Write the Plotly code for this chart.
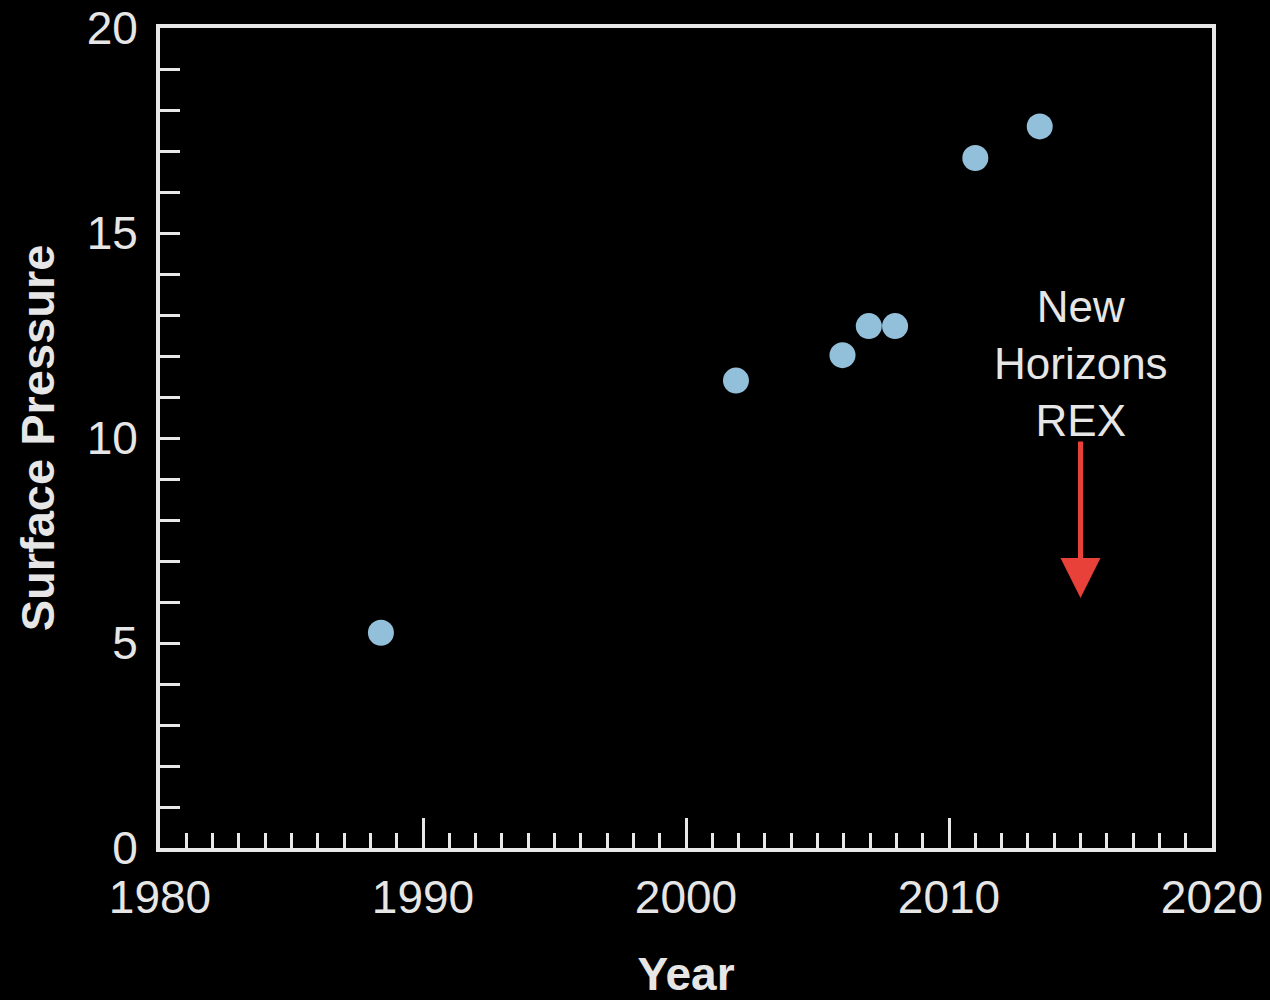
import plotly.graph_objects as go

years = [1988.4, 2001.9, 2005.95, 2006.95, 2007.95, 2011.0, 2013.45]
pressure = [5.25, 11.4, 12.02, 12.73, 12.73, 16.83, 17.6]

x_ticks = [1980, 1990, 2000, 2010, 2020]
y_ticks = [0, 5, 10, 15, 20]

label_text = "New<br>Horizons<br>REX"
label_x = 2015.0
label_y = 11.82
arrow_x = 2015.0
arrow_from = 9.95
arrow_to = 6.1

TXT = "#e6e6e6"
FONT = "Liberation Sans, Arial, sans-serif"

fig = go.Figure()
fig.add_trace(go.Scatter(
    x=years, y=pressure, mode="markers",
    marker=dict(size=26, color="#92bfd9", line=dict(width=0)),
    showlegend=False, hoverinfo="x+y",
))

annotations = [
    dict(x=label_x, y=label_y, xref="x", yref="y", text=label_text,
         showarrow=False, font=dict(size=44, color=TXT, family=FONT),
         xanchor="center", yanchor="middle", align="center"),
    dict(x=arrow_x, y=arrow_to, ax=arrow_x, ay=arrow_from,
         xref="x", yref="y", axref="x", ayref="y", text="",
         showarrow=True, arrowhead=2, arrowsize=1.6, arrowwidth=5,
         arrowcolor="#e8413a", standoff=0),
]

fig.update_layout(
    width=1270, height=1000,
    paper_bgcolor="black", plot_bgcolor="black",
    margin=dict(l=160, r=58, t=28, b=152),
    font=dict(family=FONT, color=TXT, size=46),
    annotations=annotations,
    xaxis=dict(
        range=[1980, 2020], tickvals=x_ticks, ticktext=[str(v) for v in x_ticks],
        ticks="inside", ticklen=30, tickwidth=3, tickcolor="#e8e8e8",
        minor=dict(dtick=1, ticks="inside", ticklen=15, tickwidth=3, tickcolor="#e8e8e8"),
        showline=True, linewidth=4, linecolor="#e8e8e8", mirror=True,
        showgrid=False, zeroline=False, ticklabelstandoff=6,
        tickfont=dict(size=46, color=TXT),
        title=dict(text="<b>Year</b>", font=dict(size=46, color=TXT), standoff=55),
        automargin=False,
    ),
    yaxis=dict(
        range=[0, 20], tickvals=y_ticks, ticktext=[str(v) for v in y_ticks],
        ticks="inside", ticklen=20, tickwidth=3, tickcolor="#e8e8e8",
        minor=dict(dtick=1, ticks="inside", ticklen=20, tickwidth=3, tickcolor="#e8e8e8"),
        showline=True, linewidth=4, linecolor="#e8e8e8", mirror=True,
        showgrid=False, zeroline=False, ticklabelstandoff=9,
        tickfont=dict(size=46, color=TXT),
        title=dict(text="<b>Surface Pressure</b>", font=dict(size=47, color=TXT), standoff=18),
        automargin=False,
    ),
)

fig.write_html(
    "out.html",
    config={"displayModeBar": False},
    post_script="document.body.style.margin='0';document.body.style.background='black';"
)
